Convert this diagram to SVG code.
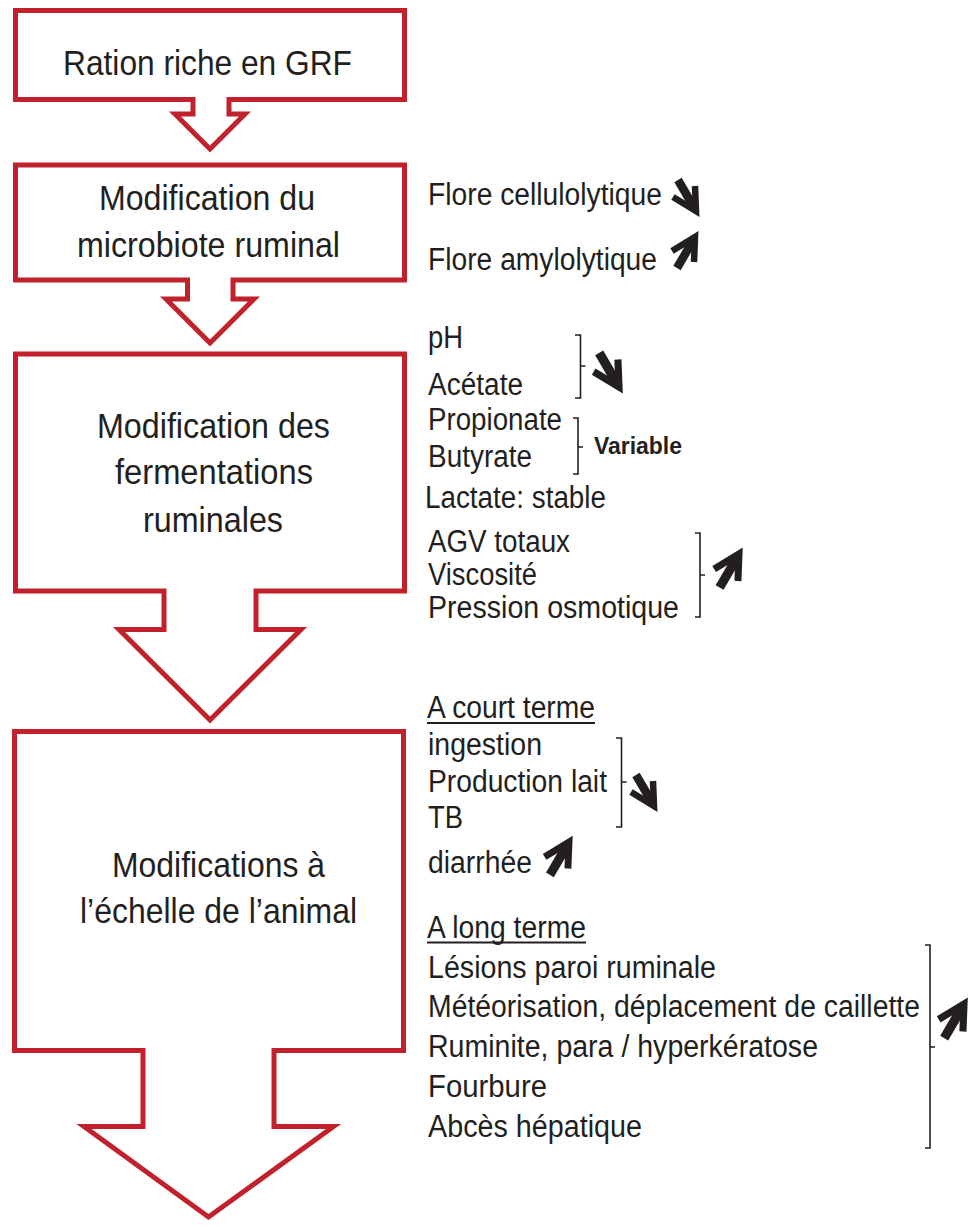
<svg xmlns="http://www.w3.org/2000/svg" xmlns:xlink="http://www.w3.org/1999/xlink" width="972" height="1227" viewBox="0 0 972 1227">
<style>
.box{fill:#fff;stroke:#c1212b;stroke-width:5;stroke-linejoin:miter}
.t{font-family:"Liberation Sans",Arial,sans-serif;fill:#231f20;}
.big{font-size:35px}
.sm{font-size:31px}
.b{font-weight:bold;font-size:24px}
.br{fill:none;stroke:#231f20;stroke-width:1.6}
</style>
<defs>
<g id="up" fill="none" stroke="#231f20" stroke-linejoin="miter" stroke-linecap="butt">
<path d="M-18,31 L-1,2" stroke-width="8.5"/>
<path d="M-23,14 L0,0 L-1,25" stroke-width="6.5"/>
</g>
</defs>
<rect width="972" height="1227" fill="#fff"/>

<g id="node-ration">
<path class="box" d="M15.5,10.5 H404.5 V99.5 H229 V114 H245 L210,149 L175,114 H193 V99.5 H15.5 Z"/>
<text class="t big" x="63" y="75" textLength="289" lengthAdjust="spacingAndGlyphs">Ration riche en GRF</text>
</g>

<g id="node-microbiote">
<path class="box" d="M15.5,165 H404.5 V280 H233 V299 H254 L210,343 L166,299 H187.5 V280 H15.5 Z"/>
<text class="t big" x="99" y="210" textLength="216" lengthAdjust="spacingAndGlyphs">Modification du</text>
<text class="t big" x="77" y="257" textLength="263" lengthAdjust="spacingAndGlyphs">microbiote ruminal</text>
</g>

<g id="node-fermentations">
<path class="box" d="M15.5,354 H404.5 V591 H256 V629.5 H301 L210,720 L119,629.5 H164 V591 H15.5 Z"/>
<text class="t big" x="97" y="438" textLength="233" lengthAdjust="spacingAndGlyphs">Modification des</text>
<text class="t big" x="115" y="484" textLength="198" lengthAdjust="spacingAndGlyphs">fermentations</text>
<text class="t big" x="143" y="532" textLength="140" lengthAdjust="spacingAndGlyphs">ruminales</text>
</g>

<g id="node-animal">
<path class="box" d="M14.5,731.5 H403.5 V1050.5 H274 V1126.5 H333.5 L208.5,1217 L84,1126.5 H143 V1050.5 H14.5 Z"/>
<text class="t big" x="112" y="877" textLength="213" lengthAdjust="spacingAndGlyphs">Modifications à</text>
<text class="t big" x="80" y="923" textLength="277" lengthAdjust="spacingAndGlyphs">l’échelle de l’animal</text>
</g>

<g id="notes-microbiote">
<text class="t sm" x="428" y="205" textLength="234" lengthAdjust="spacingAndGlyphs">Flore cellulolytique</text>
<text class="t sm" x="428" y="270" textLength="229" lengthAdjust="spacingAndGlyphs">Flore amylolytique</text>
</g>

<g id="notes-fermentations">
<text class="t sm" x="428" y="348" textLength="35" lengthAdjust="spacingAndGlyphs">pH</text>
<text class="t sm" x="428" y="395" textLength="95" lengthAdjust="spacingAndGlyphs">Acétate</text>
<text class="t sm" x="428" y="430" textLength="134" lengthAdjust="spacingAndGlyphs">Propionate</text>
<text class="t sm" x="428" y="467" textLength="104" lengthAdjust="spacingAndGlyphs">Butyrate</text>
<text class="t b" x="594" y="454" textLength="88" lengthAdjust="spacingAndGlyphs">Variable</text>
<text class="t sm" x="425" y="508" textLength="181" lengthAdjust="spacingAndGlyphs">Lactate: stable</text>
<text class="t sm" x="428" y="552" textLength="142" lengthAdjust="spacingAndGlyphs">AGV totaux</text>
<text class="t sm" x="428" y="585" textLength="109" lengthAdjust="spacingAndGlyphs">Viscosité</text>
<text class="t sm" x="428" y="618" textLength="251" lengthAdjust="spacingAndGlyphs">Pression osmotique</text>
</g>

<g id="notes-animal">
<text class="t sm" x="427" y="718" textLength="168" lengthAdjust="spacingAndGlyphs">A court terme</text>
<line x1="427" y1="723" x2="595" y2="723" stroke="#231f20" stroke-width="1.8"/>
<text class="t sm" x="428" y="755" textLength="114" lengthAdjust="spacingAndGlyphs">ingestion</text>
<text class="t sm" x="428" y="792" textLength="179" lengthAdjust="spacingAndGlyphs">Production lait</text>
<text class="t sm" x="428" y="828" textLength="35" lengthAdjust="spacingAndGlyphs">TB</text>
<text class="t sm" x="428" y="873" textLength="104" lengthAdjust="spacingAndGlyphs">diarrhée</text>
<text class="t sm" x="427" y="938" textLength="159" lengthAdjust="spacingAndGlyphs">A long terme</text>
<line x1="427" y1="942.5" x2="586" y2="942.5" stroke="#231f20" stroke-width="1.8"/>
<text class="t sm" x="428" y="978" textLength="288" lengthAdjust="spacingAndGlyphs">Lésions paroi ruminale</text>
<text class="t sm" x="428" y="1017" textLength="492" lengthAdjust="spacingAndGlyphs">Météorisation, déplacement de caillette</text>
<text class="t sm" x="428" y="1057" textLength="390" lengthAdjust="spacingAndGlyphs">Ruminite, para / hyperkératose</text>
<text class="t sm" x="428" y="1097" textLength="119" lengthAdjust="spacingAndGlyphs">Fourbure</text>
<text class="t sm" x="428" y="1137" textLength="214" lengthAdjust="spacingAndGlyphs">Abcès hépatique</text>
</g>

<g id="connectors">
<g id="brackets">
<path class="br" d="M575,335 H580.5 V398 H575 M580.5,366 H585.5"/>
<path class="br" d="M573,418 H578 V474 H573 M578,447 H583"/>
<path class="br" d="M695,533 H700 V617 H695 M700,575 H705"/>
<path class="br" d="M616,738 H621.5 V827 H616 M621.5,782 H626.5"/>
<path class="br" d="M925,945 H930 V1148 H925 M930,1047 H935"/>
</g>
<g id="trend-arrows">
<use xlink:href="#up" transform="translate(696,211) scale(1,-1)"/>
<use xlink:href="#up" transform="translate(695,237)"/>
<use xlink:href="#up" transform="translate(619,387) scale(1.1,-1.1)"/>
<use xlink:href="#up" transform="translate(739,554) scale(1.08)"/>
<use xlink:href="#up" transform="translate(654,806) scale(1,-1)"/>
<use xlink:href="#up" transform="translate(569,842) scale(1.06)"/>
<use xlink:href="#up" transform="translate(964,1004) scale(1.1)"/>
</g>
</g>
</svg>
